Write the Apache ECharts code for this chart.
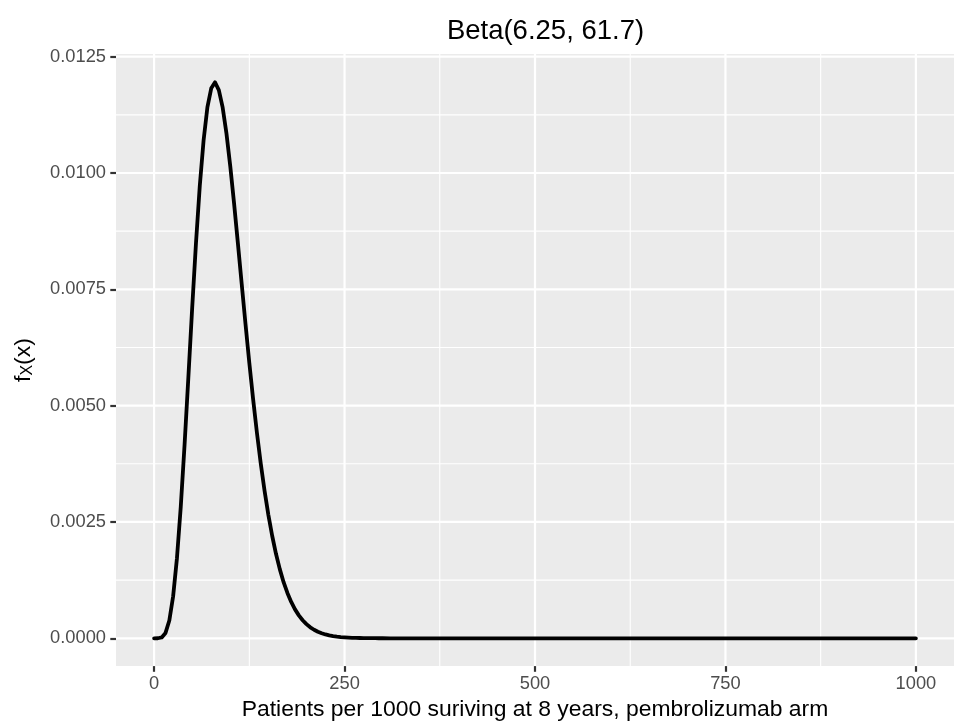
<!DOCTYPE html>
<html>
<head>
<meta charset="utf-8">
<script src="https://cdn.jsdelivr.net/npm/echarts@6/dist/echarts.min.js"></script>
<style>
html,body{margin:0;padding:0;background:#fff;}
#main{width:954px;height:726px;}
</style>
</head>
<body>
<div id="main"></div>
<script>
// Patients per 1000 (x) and density f_X(x)
var xValues = [0,5,10,15,20,25,30,35,40,45,50,55,60,65,70,75,80,85,90,95,100,
  105,110,115,120,125,130,135,140,145,150,155,160,165,170,175,180,185,190,195,200,
  205,210,215,220,225,230,235,240,245,250,255,260,265,270,275,280,285,290,295,300,
  310,320,330,340,350,360,370,380,390,400,
  410,420,430,440,450,460,470,480,490,500,510,520,530,540,550,560,570,580,590,600,
  610,620,630,640,650,660,670,680,690,700,710,720,730,740,750,760,770,780,790,800,
  810,820,830,840,850,860,870,880,890,900,910,920,930,940,950,960,970,980,990,1000];
var densityValues = [0,0.0000007,0.0000186,0.000115,0.000382,0.000903,0.001721,0.002826,0.004157,0.005612,0.007100,
  0.008499,0.009727,0.010707,0.011416,0.011820,0.011950,0.011780,0.011410,0.010848,0.010145,
  0.009345,0.008490,0.007617,0.006752,0.005920,0.005139,0.004414,0.003758,0.003171,0.002653,
  0.002204,0.001816,0.001486,0.001206,0.000974,0.000781,0.000621,0.000492,0.000388,0.000304,
  0.000236,0.000183,0.0001404,0.000108,0.0000819,0.0000621,0.0000467,0.0000351,0.0000262,0.0000195,
  0.0000144,0.0000106,0.0000078,0.0000057,0.0000041,0.0000030,0.0000021,0.0000015,0.0000011,0.0000008,
  0,0,0,0,0,0,0,0,0,0,
  0,0,0,0,0,0,0,0,0,0,
  0,0,0,0,0,0,0,0,0,0,
  0,0,0,0,0,0,0,0,0,0,
  0,0,0,0,0,0,0,0,0,0,
  0,0,0,0,0,0,0,0,0,0,
  0,0,0,0,0,0,0,0,0,0];
var xTicks = [0,250,500,750,1000];
var xMinor = [125,375,625,875];
var yTicks = [0,0.0025,0.005,0.0075,0.01,0.0125];
var yMinor = [0.00125,0.00375,0.00625,0.00875,0.01125];
var titleText = 'Beta(6.25, 61.7)';
var xTitle = 'Patients per 1000 suriving at 8 years, pembrolizumab arm';

var X_MIN = -50, X_MAX = 1050, Y_MIN = -0.000598, Y_MAX = 0.012558;

var curve = xValues.map(function(x,i){return [x, densityValues[i]];});
var font = '"Liberation Sans", Arial, sans-serif';

function gridSeries(points, width){
  return {type:'line', data:points, silent:true, z:1, showSymbol:false, symbol:'none',
    animation:false, lineStyle:{color:'#FFFFFF', width:width, type:'solid'}, emphasis:{disabled:true}};
}
var series = [];
yMinor.forEach(function(v){series.push(gridSeries([[X_MIN,v],[X_MAX,v]],1.1));});
xMinor.forEach(function(v){series.push(gridSeries([[v,Y_MIN],[v,Y_MAX]],1.1));});
yTicks.forEach(function(v){series.push(gridSeries([[X_MIN,v],[X_MAX,v]],2.2));});
xTicks.forEach(function(v){series.push(gridSeries([[v,Y_MIN],[v,Y_MAX]],2.2));});
series.push({
  type:'line', data:curve, showSymbol:false, symbol:'none', smooth:false, z:3, silent:true,
  lineStyle:{color:'#000000', width:3.8, cap:'round', join:'round'}
});

var chart = echarts.init(document.getElementById('main'), null, {renderer:'canvas'});
chart.setOption({
  animation:false,
  backgroundColor:'#ffffff',
  tooltip:{show:false},
  title:{
    text:titleText, left:540.5, textAlign:'center', top:12,
    textStyle:{fontFamily:font, fontSize:27.5, fontWeight:'normal', color:'#000000'}
  },
  grid:{left:116, top:54, width:849, height:617, show:true, backgroundColor:'#EBEBEB', borderWidth:0, containLabel:false},
  xAxis:{
    type:'value', min:X_MIN, max:X_MAX,
    axisLine:{show:false, onZero:false},
    axisTick:{show:true, customValues:xTicks, length:5.7, lineStyle:{color:'#333333', width:2.2}},
    axisLabel:{show:true, customValues:xTicks, margin:9, fontFamily:font, fontSize:18.3, color:'#4D4D4D',
      formatter:function(v){return String(v);}},
    splitLine:{show:false},
    name:xTitle, nameLocation:'middle', nameGap:31,
    nameTextStyle:{fontFamily:font, fontSize:22.9, color:'#000000'}
  },
  yAxis:{
    type:'value', min:Y_MIN, max:Y_MAX,
    axisLine:{show:false, onZero:false},
    axisTick:{show:true, customValues:yTicks, length:5.7, lineStyle:{color:'#333333', width:2.2}},
    axisLabel:{show:true, customValues:yTicks, margin:10, fontFamily:font, fontSize:18.3, color:'#4D4D4D',
      formatter:function(v){return v.toFixed(4);}},
    splitLine:{show:false},
    name:'{a|f}{b|X}{a|(x)}', nameLocation:'middle', nameGap:80, nameRotate:90,
    nameTextStyle:{
      rich:{
        a:{fontFamily:font, fontSize:22.9, color:'#000000', lineHeight:24, verticalAlign:'top'},
        b:{fontFamily:font, fontSize:16, color:'#000000', lineHeight:16, padding:[11,0,0,0], verticalAlign:'bottom'}
      }
    }
  },
  series:series
});
</script>
</body>
</html>
